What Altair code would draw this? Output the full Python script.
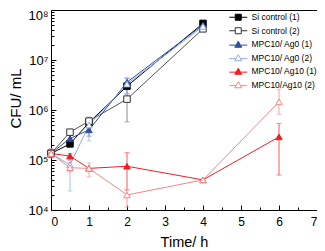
import altair as alt
import pandas as pd

F = "Liberation Sans"

series = ["Si control (1)", "Si control (2)", "MPC10/ Ag0 (1)",
          "MPC10/ Ag0 (2)", "MPC10/ Ag10 (1)", "MPC10/Ag10 (2)"]
time_short = [0, 0.5, 1, 2, 4]
time_long = [0, 0.5, 1, 2, 4, 6]

si1 = [1.35e5, 2.1e5, 5.6e5, 3.0e6, 5.4e7]
si2 = [1.35e5, 3.6e5, 6.0e5, 1.65e6, 4.2e7]
ag0_1 = [1.35e5, 2.7e5, 4.0e5, 3.6e6, 5.0e7]
ag0_2 = [1.35e5, 8.0e4, 5.0e5, 3.3e6, 4.7e7]
ag10_1 = [1.35e5, 1.2e5, 6.8e4, 7.5e4, 4.0e4, 2.9e5]
ag10_2 = [1.35e5, 7.0e4, 6.8e4, 2.0e4, 4.0e4, 1.45e6]

values = [si1, si2, ag0_1, ag0_2, ag10_1, ag10_2]
times = [time_short, time_short, time_short, time_short, time_long, time_long]

# error bars: times, lower, upper
err_t = [[0, 0.5], [0.5, 1, 2], [0.5, 1, 2], [0.5, 1, 2], [0, 0.5, 2, 6], [0, 0.5, 1, 2, 6]]
err_lo = [[1.2e5, 1.85e5], [3.2e5, 5.0e5, 5.8e5], [2.2e5, 3.0e5, 2.1e6],
          [2.4e4, 2.4e5, 2.1e6], [1.15e5, 1.0e5, 2.5e4, 5.0e4],
          [1.1e5, 5.8e4, 4.6e4, 1.15e4, 8.2e5]]
err_hi = [[1.55e5, 2.4e5], [4.0e5, 7.2e5, 2.6e6], [3.3e5, 5.0e5, 4.3e6],
          [1.2e5, 6.5e5, 4.5e6], [1.6e5, 1.35e5, 1.4e5, 5.4e5],
          [1.7e5, 9.0e4, 8.7e4, 2.6e4, 2.6e6]]

line_colors = ["#000000", "#555555", "#2f4f9f", "#8faae3", "#f01e23", "#f68686"]
stroke_colors = ["#000000", "#333333", "#2f4f9f", "#8faae3", "#f01e23", "#f68686"]
fill_colors = ["#000000", "#ffffff", "#2f4f9f", "#ffffff", "#f01e23", "#ffffff"]
err_colors = ["#444444", "#8a8a8a", "#6f88c9", "#a8bbe9", "#f25a5a", "#f7a0a0"]
shapes = ["square", "square", "triangle-up", "triangle-up", "triangle-up", "triangle-up"]
sizes = [42, 42, 70, 70, 70, 70]
sq_leg = "M-3,0H-1M1,0H3M-1,-1H1V1H-1Z"
tri_leg = "M-3,0.3H-0.75M0.75,0.3H3M0,-1L1.15,1H-1.15Z"
legend_shapes = [sq_leg, sq_leg, tri_leg, tri_leg, tri_leg, tri_leg]

rows = []
for s, ts, vs in zip(series, times, values):
    for t, v in zip(ts, vs):
        rows.append({"series": s, "t": t, "v": v})
df = pd.DataFrame(rows)

erows = []
for s, c, ts, los, his in zip(series, err_colors, err_t, err_lo, err_hi):
    for t, lo, hi in zip(ts, los, his):
        erows.append({"series": s, "t": t, "lo": lo, "hi": hi, "ecolor": c})
edf = pd.DataFrame(erows)

W, H = 266, 200
xscale = alt.Scale(domain=[0, 7], nice=False, zero=False)
yscale = alt.Scale(type="log", domain=[1e4, 1e8], nice=False)

x_label_axis = alt.Axis(orient="bottom", values=list(range(8)), format="d", ticks=False,
                        tickSize=0, domain=False, grid=False, labelFont=F, labelFontSize=12,
                        labelPadding=6, labelColor="black", title="Time/ h", titleFont=F,
                        titleFontSize=14.5, titleFontWeight="normal", titleColor="black",
                        titleY=36, titleBaseline="alphabetic")
y_label_axis = alt.Axis(orient="left", values=[1e4, 1e5, 1e6, 1e7, 1e8],
                        labelExpr="'10' + ['⁰','¹','²','³','⁴','⁵','⁶','⁷','⁸'][round(log(datum.value)/LN10)]",
                        ticks=False, tickSize=0, domain=False, grid=False, labelFont=F,
                        labelFontSize=13, labelPadding=3, labelColor="black",
                        labelOffset={"condition": {"test": "datum.value > 5e7", "value": 5}, "value": 0},
                        title="CFU/ mL", titleFont=F, titleFontSize=15, titleFontWeight="normal",
                        titleColor="black", titleX=-31, titleY=88, titleAngle=270,
                        titleBaseline="alphabetic", titleAlign="center")

x_tick_vals = [i * 0.5 for i in range(15)]
y_tick_vals = [k * 10 ** e for e in range(4, 8) for k in range(1, 10)] + [1e8]

x_tick_axis = alt.Axis(orient="top", offset=-H, values=x_tick_vals, labels=False, domain=False,
                       grid=False, title=None, ticks=True, tickColor="black", tickWidth=1,
                       tickSize={"condition": {"test": "datum.value % 1 == 0", "value": 5}, "value": 3})
y_tick_axis = alt.Axis(orient="right", offset=-W, values=y_tick_vals, labels=False, domain=False,
                       grid=False, title=None, ticks=True, tickColor="black", tickWidth=1,
                       tickSize={"condition": {"test": "abs(log(datum.value)/LN10 - round(log(datum.value)/LN10)) < 0.001", "value": 5}, "value": 3})

legend = alt.Legend(orient="none", legendX=183, legendY=3, title=None, symbolSize=36,
                    symbolStrokeWidth=1, labelFont=F, labelFontSize=8.5, labelColor="black",
                    labelOffset=9, rowPadding=2.5, padding=0)

ebase = alt.Chart(edf)
rules = ebase.mark_rule(strokeWidth=1).encode(
    x=alt.X("t:Q", scale=xscale, axis=None),
    y=alt.Y("lo:Q", scale=yscale, axis=None),
    y2="hi:Q",
    color=alt.Color("ecolor:N", scale=None),
)
caps_lo = ebase.mark_tick(orient="horizontal", size=5, thickness=1).encode(
    x=alt.X("t:Q", scale=xscale, axis=None),
    y=alt.Y("lo:Q", scale=yscale, axis=None),
    color=alt.Color("ecolor:N", scale=None),
)
caps_hi = ebase.mark_tick(orient="horizontal", size=5, thickness=1).encode(
    x=alt.X("t:Q", scale=xscale, axis=None),
    y=alt.Y("hi:Q", scale=yscale, axis=None),
    color=alt.Color("ecolor:N", scale=None),
)

base = alt.Chart(df)
lines = base.mark_line(strokeWidth=1).encode(
    x=alt.X("t:Q", scale=xscale, axis=x_label_axis),
    y=alt.Y("v:Q", scale=yscale, axis=y_label_axis),
    stroke=alt.Stroke("series:N", scale=alt.Scale(domain=series, range=line_colors), legend=None),
)
points = base.mark_point(opacity=1, strokeWidth=1).encode(
    x=alt.X("t:Q", scale=xscale, axis=x_tick_axis),
    y=alt.Y("v:Q", scale=yscale, axis=y_tick_axis),
    stroke=alt.Stroke("series:N", scale=alt.Scale(domain=series, range=stroke_colors), legend=None),
    fill=alt.Fill("series:N", scale=alt.Scale(domain=series, range=fill_colors), legend=None),
    shape=alt.Shape("series:N", scale=alt.Scale(domain=series, range=shapes), legend=None),
    size=alt.Size("series:N", scale=alt.Scale(domain=series, range=sizes), legend=None),
)
legend_layer = base.transform_filter("datum.t < 0").mark_point(opacity=1, strokeWidth=1).encode(
    x=alt.X("t:Q", scale=xscale, axis=None),
    y=alt.Y("v:Q", scale=yscale, axis=None),
    stroke=alt.Stroke("series:N", scale=alt.Scale(domain=series, range=stroke_colors), legend=legend),
    fill=alt.Fill("series:N", scale=alt.Scale(domain=series, range=fill_colors), legend=legend),
    shape=alt.Shape("series:N", scale=alt.Scale(domain=series, range=legend_shapes), legend=legend),
)

chart = alt.layer(rules, caps_lo, caps_hi, lines, points, legend_layer).resolve_axis(
    x="independent", y="independent"
).resolve_scale(
    stroke="independent", fill="independent", shape="independent"
).properties(
    width=W, height=H,
    autosize=alt.AutoSizeParams(type="none"),
    padding={"left": 43, "top": 2, "right": 0, "bottom": 41},
).configure_view(stroke="black", strokeWidth=1)

chart.save("out.html", embed_options={"renderer": "svg", "actions": False})
